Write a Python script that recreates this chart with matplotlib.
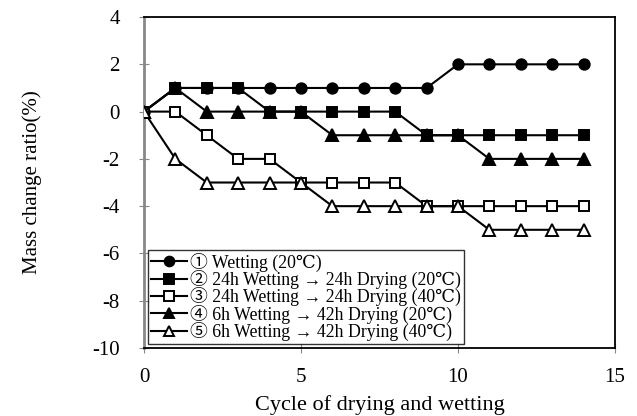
import matplotlib
matplotlib.use("Agg")
import matplotlib.pyplot as plt

plt.rcParams['font.family'] = ['Liberation Serif', 'DejaVu Serif', 'Noto Sans CJK JP']
plt.rcParams['axes.unicode_minus'] = False

cycles = list(range(15))
s1 = [0, 1, 1, 1, 1, 1, 1, 1, 1, 1, 2, 2, 2, 2, 2]
s2 = [0, 1, 1, 1, 0, 0, 0, 0, 0, -1, -1, -1, -1, -1, -1]
s3 = [0, 0, -1, -2, -2, -3, -3, -3, -3, -4, -4, -4, -4, -4, -4]
s4 = [0, 1, 0, 0, 0, 0, -1, -1, -1, -1, -1, -2, -2, -2, -2]
s5 = [0, -2, -3, -3, -3, -3, -4, -4, -4, -4, -4, -5, -5, -5, -5]
labels = ["① Wetting (20℃)",
          "② 24h Wetting → 24h Drying (20℃)",
          "③ 24h Wetting → 24h Drying (40℃)",
          "④ 6h Wetting → 42h Drying (20℃)",
          "⑤ 6h Wetting → 42h Drying (40℃)"]

fig = plt.figure(figsize=(6.37, 4.16), dpi=100)
ax = fig.add_axes([0.226, 0.1635, 0.7395, 0.7955])

styles = [
    (s1, 'o', 'black', 7.5),
    (s2, 's', 'black', 7.5),
    (s3, 's', 'white', 7.5),
    (s4, '^', 'black', 8.5),
    (s5, '^', 'white', 8.5),
]
order = [4, 2, 0, 3, 1]
handles = [None] * 5
for i in order:
    data, m, fc, ms = styles[i]
    h, = ax.plot(cycles, data, color='black', lw=1.5, marker=m, markersize=ms,
                 markerfacecolor=fc, markeredgecolor='black', markeredgewidth=1.4,
                 label=labels[i], zorder=3 + i)
    handles[i] = h

ax.set_xlim(0, 15)
ax.set_ylim(-10, 4)
ax.set_xticks([0, 5, 10, 15])
ax.set_yticks(range(-10, 5, 2))
ax.tick_params(axis='both', direction='inout', length=7, labelsize=15, color='#888888')
ax.tick_params(axis='x', pad=11)
ax.tick_params(axis='y', pad=14)
for sp in ['top', 'right', 'bottom']:
    ax.spines[sp].set_color('black')
    ax.spines[sp].set_linewidth(1.3)
ax.spines['left'].set_color('#888888')
ax.spines['left'].set_linewidth(2)

ax.set_xlabel('Cycle of drying and wetting', fontsize=16, labelpad=6)
ax.set_ylabel('Mass change ratio(%)', fontsize=15, labelpad=36)

leg = ax.legend(handles=handles, loc='lower left', fontsize=12.8, frameon=True,
                fancybox=False, edgecolor='black', handlelength=2.0,
                handletextpad=0.2, labelspacing=-0.1, borderpad=0.15,
                borderaxespad=0.25)
leg.get_frame().set_linewidth(1.0)
for h in leg.legend_handles:
    h.set_markersize(7)

fig.savefig('out.png', dpi=100, facecolor='white')
